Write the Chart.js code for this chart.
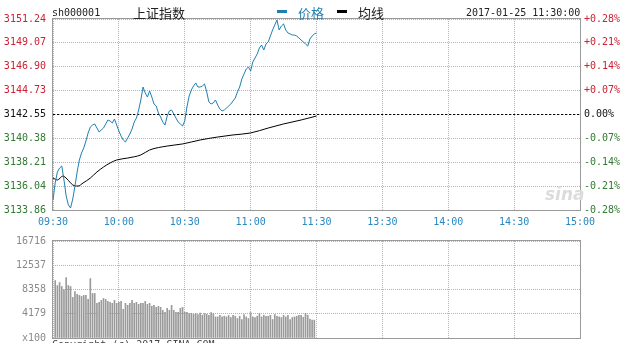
<!DOCTYPE html>
<html lang="zh-CN">
<head>
    <meta charset="UTF-8">
    <title>上证指数 分时图</title>
    <script src="https://cdn.jsdelivr.net/npm/chart.js"></script>
    <style>
        body { margin: 0; background: #fff; }
        #wrap { position: relative; width: 624px; height: 343px; overflow: hidden; }
        canvas { position: absolute; left: 0; }
        #priceChart { top: 0; }
        #volChart { top: 228px; }
        .txt { position: absolute; white-space: nowrap; font-family: "DejaVu Sans Mono", monospace; font-size: 10px; line-height: 12px; color: #222; }
        .cjk { font-family: "Noto Sans CJK SC", sans-serif; font-size: 13px; line-height: 15px; }
        .dash { position: absolute; width: 10px; height: 3px; }
    </style>
</head>
<body>
<div id="wrap">
    <canvas id="priceChart" width="624" height="232"></canvas>
    <canvas id="volChart" width="624" height="123"></canvas>

    <div class="txt" style="left:52px; top:7px;">sh000001</div>
    <div class="txt cjk" style="left:133px; top:5px;">上证指数</div>
    <div class="dash" style="left:277px; top:10px; background:#1f7fb0;"></div>
    <div class="txt cjk" style="left:298px; top:5px; color:#1f7fb0;">价格</div>
    <div class="dash" style="left:337px; top:10px; background:#000;"></div>
    <div class="txt cjk" style="left:358px; top:5px;">均线</div>
    <div class="txt" style="left:466px; top:7px;">2017-01-25 11:30:00</div>
    <div class="txt" style="left:545px; top:184px; font-family:'DejaVu Sans'; font-size:17px; line-height:20px; font-style:italic; font-weight:bold; color:#dcdcdc;">sina</div>
    <div class="txt" style="left:52px; top:339px; color:#444;">Copyright (c) 2017 SINA.COM</div>
</div>

<script>
    // x axis: minutes since 09:30 (trading time only)
    var timeTicks = [0, 30, 60, 90, 120, 150, 180, 210, 240];
    var timeLabels = ['09:30', '10:00', '10:30', '11:00', '11:30', '13:30', '14:00', '14:30', '15:00'];

    var prevClose = 3142.55;
    var priceTicks = [3133.86, 3136.04, 3138.21, 3140.38, 3142.55, 3144.73, 3146.90, 3149.07, 3151.24];
    var pctLabels = ['-0.28%', '-0.21%', '-0.14%', '-0.07%', '0.00%', '+0.07%', '+0.14%', '+0.21%', '+0.28%'];

    // one price per minute, 09:30 .. 11:30
    var priceValues = [
        3134.77, 3136.32, 3137.32, 3137.68, 3137.86, 3136.59, 3135.13, 3134.32, 3134.04, 3134.86,
        3136.04, 3137.32, 3138.41, 3139.05, 3139.50, 3140.14, 3140.87, 3141.41, 3141.59, 3141.69,
        3141.32, 3140.96, 3141.14, 3141.32, 3141.69, 3142.05, 3141.96, 3141.78, 3142.14, 3141.59,
        3141.05, 3140.59, 3140.23, 3140.05, 3140.41, 3140.78, 3141.23, 3141.87, 3142.23, 3142.96,
        3143.87, 3145.05, 3144.51, 3144.14, 3144.69, 3144.14, 3143.51, 3143.32, 3142.69, 3142.32,
        3141.87, 3141.59, 3142.41, 3142.87, 3142.96, 3142.60, 3142.23, 3141.87, 3141.69, 3141.50,
        3141.96, 3143.23, 3144.23, 3144.78, 3145.14, 3145.42, 3145.05, 3145.05, 3145.14, 3145.33,
        3144.60, 3143.69, 3143.51, 3143.60, 3143.87, 3143.41, 3143.05, 3142.87, 3142.96, 3143.14,
        3143.32, 3143.51, 3143.78, 3144.05, 3144.60, 3145.05, 3145.78, 3146.24, 3146.69, 3146.87,
        3146.51, 3147.33, 3147.69, 3148.06, 3148.60, 3148.87, 3148.42, 3148.97, 3149.15, 3149.69,
        3150.24, 3150.69, 3151.15, 3150.24, 3150.60, 3150.79, 3150.24, 3149.97, 3149.88, 3149.78,
        3149.78, 3149.69, 3149.51, 3149.33, 3149.15, 3148.97, 3148.78, 3149.42, 3149.69, 3149.88,
        3149.97
    ];

    // average price line
    var avgMinutes = [0, 2, 4.5, 6.4, 9, 11.4, 13.7, 17, 20, 23, 26, 29, 34, 40, 44, 52, 59, 67, 75, 82, 90, 98, 105, 113, 120];
    var avgValues = [
        3136.77, 3136.59, 3136.95, 3136.68, 3136.14, 3136.04, 3136.32, 3136.77, 3137.32, 3137.77,
        3138.14, 3138.41, 3138.59, 3138.87, 3139.32, 3139.68, 3139.87, 3140.23, 3140.50, 3140.69,
        3140.87, 3141.32, 3141.69, 3142.05, 3142.41
    ];

    // volume (x100), one bar per minute starting at minute 1
    var volTicks = [0, 4179, 8358, 12537, 16716];
    var volValues = [
        9895, 9042, 9554, 8871, 8359, 10407, 9042, 8871, 6995, 8018,
        7506, 7336, 7165, 7336, 7336, 6653, 10236, 7677, 7677, 5971,
        6142, 6483, 6824, 6653, 6312, 6142, 5971, 6483, 5971, 6142,
        6312, 4947, 5971, 5630, 5971, 6483, 5971, 6142, 5800, 5971,
        5971, 6312, 5800, 5971, 5459, 5630, 5289, 5459, 5289, 4777,
        4436, 5118, 4777, 5630, 4777, 4436, 4436, 5118, 5289, 4436,
        4436, 4265, 4265, 4094, 4214, 4043, 4316, 3924, 4214, 4094,
        3924, 4384, 4214, 3634, 3634, 3924, 3634, 3753, 3634, 3873,
        3531, 3924, 3753, 3361, 3753, 3190, 4043, 3634, 3361, 4384,
        3634, 3531, 3753, 4214, 3634, 3924, 3753, 3753, 3924, 3190,
        4043, 3753, 3634, 3531, 3924, 3634, 3924, 3190, 3531, 3634,
        3753, 3924, 3924, 3583, 4265, 3924, 3241, 3071, 3071
    ];

    var MONO = 'DejaVu Sans Mono';
    var PRICE_BLUE = '#1f7fb0';
    var LABEL_BLUE = '#2a88c0';
    var RED = '#cc2233';
    var GREEN = '#337a33';
    var GRID = '#b4b4b4';

    // gray frame around the plot area
    var frame = {
        id: 'frame',
        beforeDatasetsDraw: function (chart) {
            var a = chart.chartArea, c = chart.ctx;
            c.save();
            c.strokeStyle = '#9a9a9a';
            c.lineWidth = 1;
            c.strokeRect(a.left - 0.5, a.top - 0.5, a.right - a.left + 1, a.bottom - a.top + 1);
            c.restore();
        }
    };

    function setTicks(list) {
        return function (axis) { axis.ticks = list.map(function (v) { return { value: v }; }); };
    }

    function priceColor(ctx) {
        if (ctx.index > 4) return RED;
        if (ctx.index === 4) return '#111';
        return GREEN;
    }

    new Chart(document.getElementById('priceChart'), {
        type: 'line',
        data: {
            datasets: [
                {
                    label: '价格',
                    data: priceValues.map(function (v, i) { return { x: i, y: v }; }),
                    borderColor: PRICE_BLUE, borderWidth: 1, pointRadius: 0, tension: 0
                },
                {
                    label: '均线',
                    data: avgMinutes.map(function (m, i) { return { x: m, y: avgValues[i] }; }),
                    borderColor: '#000', borderWidth: 1, pointRadius: 0, cubicInterpolationMode: 'monotone'
                },
                {
                    label: '昨收',
                    data: [{ x: 0, y: prevClose }, { x: 240, y: prevClose }],
                    borderColor: '#000', borderWidth: 1, borderDash: [2, 2], pointRadius: 0
                }
            ]
        },
        options: {
            responsive: false,
            animation: false,
            layout: { padding: { top: 19, left: 0, right: 0, bottom: 0 } },
            plugins: { legend: { display: false }, tooltip: { enabled: false } },
            scales: {
                x: {
                    type: 'linear', min: 0, max: 240,
                    afterBuildTicks: setTicks(timeTicks),
                    afterFit: function (a) { a.height = 22; },
                    ticks: {
                        callback: function (v, i) { return timeLabels[i]; },
                        color: LABEL_BLUE, font: { family: MONO, size: 10 },
                        padding: 6, autoSkip: false, maxRotation: 0
                    },
                    grid: { color: GRID, drawTicks: false },
                    border: { display: false, dash: [1, 1] }
                },
                y: {
                    position: 'left', min: priceTicks[0], max: priceTicks[8],
                    afterBuildTicks: setTicks(priceTicks),
                    afterFit: function (a) { a.width = 53; },
                    ticks: {
                        callback: function (v) { return v.toFixed(2); },
                        color: priceColor, font: { family: MONO, size: 10 }, padding: 7
                    },
                    grid: { color: GRID, drawTicks: false },
                    border: { display: false, dash: [1, 1] }
                },
                y1: {
                    position: 'right', min: priceTicks[0], max: priceTicks[8],
                    afterBuildTicks: setTicks(priceTicks),
                    afterFit: function (a) { a.width = 44; },
                    ticks: {
                        callback: function (v, i) { return pctLabels[i]; },
                        color: priceColor, font: { family: MONO, size: 10 }, padding: 4
                    },
                    grid: { drawOnChartArea: false, drawTicks: false },
                    border: { display: false }
                }
            }
        },
        plugins: [frame]
    });

    new Chart(document.getElementById('volChart'), {
        type: 'bar',
        data: {
            datasets: [{
                label: '成交量',
                data: volValues.map(function (v, i) { return { x: i + 1, y: v }; }),
                backgroundColor: '#9a9a9a', borderWidth: 0, barThickness: 1
            }]
        },
        options: {
            responsive: false,
            animation: false,
            layout: { padding: { top: 12, left: 0, right: 44, bottom: 5 } },
            plugins: { legend: { display: false }, tooltip: { enabled: false } },
            scales: {
                x: {
                    type: 'linear', min: 0, max: 240, offset: false,
                    afterBuildTicks: setTicks(timeTicks),
                    afterFit: function (a) { a.height = 0; },
                    ticks: { display: false },
                    grid: { color: GRID, drawTicks: false, offset: false },
                    border: { display: false, dash: [1, 1] }
                },
                y: {
                    min: 0, max: 16716,
                    afterBuildTicks: setTicks(volTicks),
                    afterFit: function (a) { a.width = 53; },
                    ticks: {
                        callback: function (v) { return v === 0 ? 'x100' : String(v); },
                        color: '#8a8a8a', font: { family: MONO, size: 10 }, padding: 7
                    },
                    grid: { color: GRID, drawTicks: false },
                    border: { display: false, dash: [1, 1] }
                }
            }
        },
        plugins: [frame]
    });
</script>
</body>
</html>
